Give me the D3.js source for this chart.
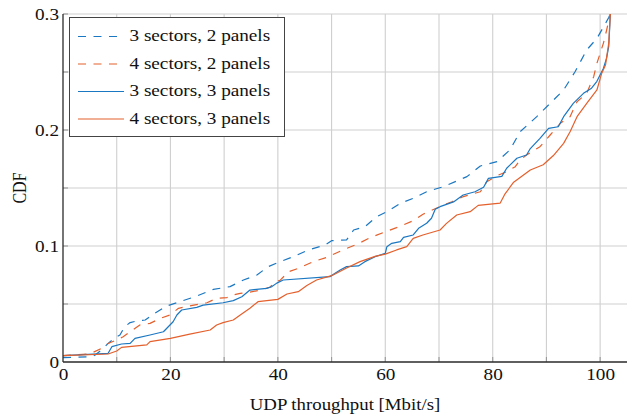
<!DOCTYPE html>
<html>
<head>
<meta charset="utf-8">
<script src="https://cdn.jsdelivr.net/npm/d3@7"></script>
<style>
  html, body { margin: 0; padding: 0; background: #fff; }
  svg { display: block; }
  text { font-family: "Liberation Serif", "Times New Roman", serif; fill: #111; }
</style>
</head>
<body>
<div id="chart"></div>
<script>
// ---------- data ----------
const seriesNames = ["3 sectors, 2 panels", "4 sectors, 2 panels", "3 sectors, 3 panels", "4 sectors, 3 panels"];
const xTicks = [0, 20, 40, 60, 80, 100];
const yTicks = [0, 0.1, 0.2, 0.3];
const yTickLabels = ["0", "0.1", "0.2", "0.3"];

const s3p2X = [0, 5.3, 6, 7.5, 8.4, 9.7, 10.6, 11.5, 12.5, 14, 15.3, 17.1, 19.3, 21.8, 24.9, 28, 31.1, 33.6, 36.1, 38.2, 40.4, 42.9, 45.7, 48.8, 50, 52.8, 54.1, 56.2, 58.4, 60.3, 62.8, 65.2, 67.7, 70.8, 75.2, 77.7, 80.8, 83.2, 85.1, 88.2, 90.7, 93.2, 95.3, 97.5, 99.4, 100.6, 101.6, 101.9, 102.1];
const s3p2Y = [0.0037, 0.0046, 0.006, 0.0118, 0.016, 0.021, 0.0233, 0.0305, 0.034, 0.0356, 0.0362, 0.042, 0.0483, 0.052, 0.0569, 0.0626, 0.065, 0.0707, 0.075, 0.0822, 0.0865, 0.0908, 0.0966, 0.1009, 0.1046, 0.1052, 0.1138, 0.1166, 0.1253, 0.1296, 0.1368, 0.1411, 0.1468, 0.1511, 0.1598, 0.169, 0.1727, 0.1828, 0.1985, 0.2115, 0.223, 0.2345, 0.25, 0.269, 0.279, 0.2886, 0.297, 0.3, 0.32];

const s4p2X = [0, 5, 7.2, 8.4, 10, 11.2, 12.5, 14.3, 16.2, 18.1, 19.9, 21.5, 23.6, 26.8, 28.6, 30.5, 31.7, 33, 34.8, 36.7, 38.5, 39.5, 40.4, 42, 43.8, 46.6, 49.1, 52.5, 54.7, 57.2, 59.6, 62.1, 65.2, 67.1, 70.8, 72.4, 74.5, 77.7, 78.9, 81.1, 82.6, 84.2, 85.1, 86.3, 88.8, 90.7, 92.6, 94.4, 95.7, 97.5, 98.8, 99.4, 100.6, 101.2, 101.9, 102.1];
const s4p2Y = [0.0055, 0.007, 0.0118, 0.016, 0.019, 0.0218, 0.026, 0.0319, 0.0333, 0.0376, 0.0405, 0.0463, 0.0483, 0.0511, 0.0549, 0.0555, 0.0578, 0.0592, 0.0603, 0.062, 0.0644, 0.0692, 0.0704, 0.0778, 0.0807, 0.0865, 0.0902, 0.0974, 0.1014, 0.1072, 0.1115, 0.1158, 0.1218, 0.1276, 0.1353, 0.1382, 0.1425, 0.1468, 0.1554, 0.1612, 0.164, 0.1684, 0.1741, 0.1784, 0.1856, 0.1957, 0.2058, 0.2115, 0.2244, 0.2316, 0.246, 0.2575, 0.2747, 0.286, 0.3, 0.32];

const s3p3X = [0, 8.4, 9.1, 10.9, 12.5, 13.4, 16.2, 18.7, 19.6, 20.5, 21.2, 22.1, 24.9, 26.1, 29.8, 31.7, 33.3, 34.8, 37.9, 38.9, 39.8, 41, 49.7, 51.6, 52.8, 55, 56.2, 58.1, 60, 60.3, 61.2, 62.8, 63.4, 65.2, 66.2, 67.7, 68.6, 69.3, 70.2, 72.7, 74.5, 76.7, 78.3, 79.2, 81.7, 82.6, 84.5, 86.3, 87, 88.8, 90.4, 92.2, 93.2, 95, 96.9, 98.4, 99.4, 100.6, 101.2, 101.6, 101.9, 102.1];
const s3p3Y = [0.0055, 0.0075, 0.0132, 0.0155, 0.016, 0.0204, 0.0233, 0.0261, 0.0304, 0.0347, 0.0405, 0.0448, 0.0471, 0.049, 0.0511, 0.0529, 0.0563, 0.062, 0.0635, 0.065, 0.068, 0.0707, 0.0736, 0.0793, 0.0822, 0.0828, 0.0865, 0.0908, 0.0937, 0.0994, 0.1023, 0.1037, 0.1075, 0.1095, 0.1152, 0.1196, 0.1239, 0.1316, 0.1339, 0.138, 0.144, 0.1468, 0.1506, 0.1583, 0.16, 0.167, 0.1756, 0.1784, 0.184, 0.1928, 0.2014, 0.2028, 0.2115, 0.223, 0.2316, 0.236, 0.242, 0.253, 0.262, 0.272, 0.3, 0.32];

const s4p3X = [0, 8.4, 10, 10.9, 15.6, 16.2, 20, 23.6, 27.4, 28.6, 29.8, 31.7, 33, 34.8, 36.3, 40, 41.7, 43.8, 45.4, 47.2, 50, 52.8, 55.3, 58.1, 60, 62.1, 64, 65.2, 67, 70.2, 71.4, 73.3, 75.8, 77.3, 81.4, 82.3, 83.9, 87, 89.4, 91.3, 93.2, 94.4, 95.7, 97.5, 99.4, 100.3, 101, 101.6, 101.9, 102.1];
const s4p3Y = [0.0055, 0.0069, 0.0095, 0.0126, 0.0147, 0.0175, 0.0204, 0.024, 0.0276, 0.0319, 0.0339, 0.0362, 0.0405, 0.0463, 0.052, 0.054, 0.0586, 0.0606, 0.066, 0.0707, 0.0744, 0.081, 0.0865, 0.091, 0.093, 0.0966, 0.0994, 0.1066, 0.1095, 0.1138, 0.1195, 0.1267, 0.1296, 0.135, 0.137, 0.145, 0.155, 0.1655, 0.17, 0.178, 0.1885, 0.1985, 0.2115, 0.223, 0.2345, 0.249, 0.256, 0.275, 0.3, 0.32];

const seriesXs = [s3p2X, s4p2X, s3p3X, s4p3X];
const seriesYs = [s3p2Y, s4p2Y, s3p3Y, s4p3Y];
const colors = ["#1a77c2", "#e4602c", "#1a77c2", "#e4602c"];
const dashed = [true, true, false, false];

// ---------- layout ----------
const W = 633, H = 418;
const L = 63, R = 627, T = 14, B = 362;
const SX = 1.2; // horizontal text stretch of the reference

const x = d3.scaleLinear().domain([0, 105]).range([L, R]);
const y = d3.scaleLinear().domain([0, 0.3]).range([B, T]);

const svg = d3.select("#chart").append("svg").attr("width", W).attr("height", H);

svg.append("defs").append("clipPath").attr("id", "clip")
  .append("rect").attr("x", L).attr("y", T).attr("width", R - L).attr("height", B - T);

// grid
const gridX = d3.range(10, 101, 10);
const gridY = d3.range(0.05, 0.3001, 0.05);
svg.append("g").selectAll("line").data(gridX).join("line")
  .attr("x1", d => x(d)).attr("x2", d => x(d)).attr("y1", T).attr("y2", B)
  .attr("stroke", "#cfcfcf").attr("stroke-width", 1.1);
svg.append("g").selectAll("line").data(gridY).join("line")
  .attr("x1", L).attr("x2", R).attr("y1", d => y(d)).attr("y2", d => y(d))
  .attr("stroke", "#cfcfcf").attr("stroke-width", 1.1);

// inward ticks
svg.append("g").selectAll("line").data(gridX).join("line")
  .attr("x1", d => x(d)).attr("x2", d => x(d)).attr("y1", B).attr("y2", B - 5)
  .attr("stroke", "#999").attr("stroke-width", 1.1);
svg.append("g").selectAll("line").data(gridY).join("line")
  .attr("x1", L).attr("x2", L + 5).attr("y1", d => y(d)).attr("y2", d => y(d))
  .attr("stroke", "#999").attr("stroke-width", 1.1);

// curves
const plot = svg.append("g").attr("clip-path", "url(#clip)");
const line = d3.line().x(d => x(d[0])).y(d => y(d[1]));
seriesXs.forEach((xs, i) => {
  const pts = xs.map((v, j) => [v, seriesYs[i][j]]);
  plot.append("path").datum(pts)
    .attr("d", line)
    .attr("fill", "none")
    .attr("stroke", colors[i])
    .attr("stroke-width", 1.2)
    .attr("stroke-linejoin", "round")
    .attr("stroke-dasharray", dashed[i] ? "8,7.5" : null);
});

// axes
const xAxis = d3.axisBottom(x).tickValues(xTicks).tickSize(0).tickPadding(0);
const gx = svg.append("g").attr("transform", `translate(0,${B})`).call(xAxis);
gx.select(".domain").remove();
gx.selectAll("text").attr("y", 18).attr("dy", null)
  .attr("transform", `scale(${SX},1)`)
  .attr("font-size", 16).attr("fill", "#111")
  .style("font-family", '"Liberation Serif", serif');

const yAxis = d3.axisLeft(y).tickValues(yTicks).tickFormat((d, i) => yTickLabels[i]).tickSize(0).tickPadding(0);
const gy = svg.append("g").attr("transform", `translate(${L},0)`).call(yAxis);
gy.select(".domain").remove();
gy.selectAll("text").attr("x", 0).attr("y", 5.5).attr("dy", null)
  .attr("transform", `translate(-4,0) scale(${SX},1)`)
  .attr("font-size", 16).attr("fill", "#111")
  .style("font-family", '"Liberation Serif", serif');

// axis lines
svg.append("line").attr("x1", L).attr("x2", L).attr("y1", T).attr("y2", B)
  .attr("stroke", "#2a2a2a").attr("stroke-width", 1.3);
svg.append("line").attr("x1", L).attr("x2", R).attr("y1", B).attr("y2", B)
  .attr("stroke", "#2a2a2a").attr("stroke-width", 1.3);

// axis titles
svg.append("text")
  .attr("transform", `translate(${(L + R) / 2},410) scale(${SX * 0.98},1)`)
  .attr("text-anchor", "middle").attr("font-size", 16)
  .text("UDP throughput [Mbit/s]");
svg.append("text")
  .attr("transform", `translate(26,${(T + B) / 2}) scale(${SX},1) rotate(-90)`)
  .attr("text-anchor", "middle").attr("font-size", 16)
  .text("CDF");

// legend
const lg = svg.append("g");
lg.append("rect").attr("x", 69.5).attr("y", 17.5).attr("width", 215).attr("height", 119)
  .attr("fill", "#fff").attr("stroke", "#444").attr("stroke-width", 1);
seriesNames.forEach((name, i) => {
  const ly = 36.5 + i * 27.5;
  lg.append("line").attr("x1", 78).attr("x2", 124).attr("y1", ly).attr("y2", ly)
    .attr("stroke", colors[i]).attr("stroke-width", 1.2)
    .attr("stroke-dasharray", dashed[i] ? "8,7.5" : null);
  lg.append("text")
    .attr("transform", `translate(129.5,${ly + 4.5}) scale(${SX},1)`)
    .attr("font-size", 16)
    .text(name);
});
</script>
</body>
</html>
